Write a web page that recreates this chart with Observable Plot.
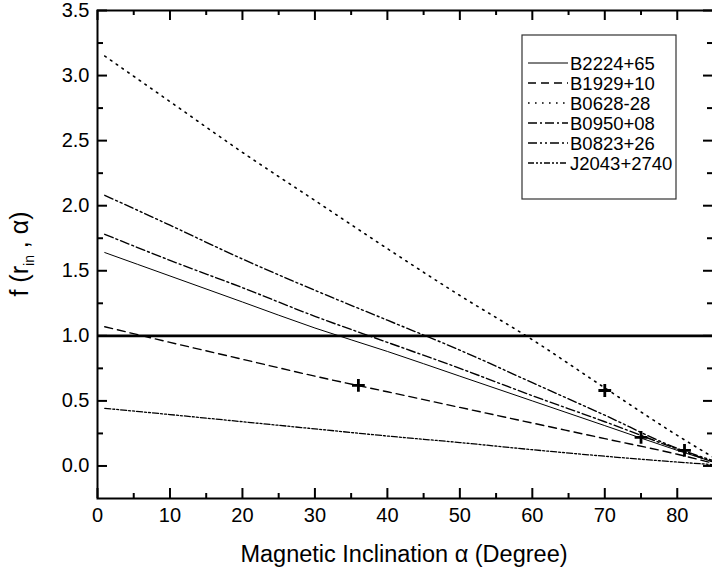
<!DOCTYPE html>
<html><head><meta charset="utf-8">
<script src="https://cdn.jsdelivr.net/npm/d3@7"></script>
<script src="https://cdn.jsdelivr.net/npm/@observablehq/plot@0.6"></script>
<style>
html,body{margin:0;padding:0;background:#fff;overflow:hidden;}
#chart{position:relative;width:712px;height:574px;overflow:hidden;}
#chart svg{overflow:hidden;}
</style></head><body><div id="chart"></div>
<script>
// ---- data ----
const alpha = [1, 10, 20, 30, 40, 50, 60, 70, 80, 85];
const B2224 = [1.64, 1.46, 1.26, 1.06, 0.88, 0.69, 0.50, 0.31, 0.12, 0.03];
const B1929 = [1.07, 0.95, 0.82, 0.69, 0.57, 0.45, 0.33, 0.21, 0.09, 0.02];
const B0628 = [3.15, 2.80, 2.41, 2.04, 1.67, 1.31, 0.97, 0.60, 0.235, 0.065];
const B0950 = [1.78, 1.58, 1.37, 1.15, 0.95, 0.75, 0.54, 0.34, 0.13, 0.03];
const B0823 = [2.08, 1.85, 1.59, 1.35, 1.12, 0.89, 0.64, 0.39, 0.135, 0.04];
const J2043 = [0.443, 0.395, 0.34, 0.285, 0.23, 0.18, 0.125, 0.075, 0.03, 0.01];
const seriesNames = ["B2224+65", "B1929+10", "B0628-28", "B0950+08", "B0823+26", "J2043+2740"];
const seriesValues = [B2224, B1929, B0628, B0950, B0823, J2043];
const plusAlpha = [36, 70, 75, 81];
const plusF = [0.62, 0.58, 0.22, 0.12];
const xMajor = [0, 10, 20, 30, 40, 50, 60, 70, 80];
const xMinor = [5, 15, 25, 35, 45, 55, 65, 75, 85];
const yMajor = [0, 0.5, 1.0, 1.5, 2.0, 2.5, 3.0, 3.5];
const yMinor = [0.25, 0.75, 1.25, 1.75, 2.25, 2.75, 3.25];
const refLine = [1.0];

// ---- layout / styles ----
const W = 712, H = 574, ML = 97, MR = -1, MT = 10, MB = 76;
const innerW = W - ML - MR, innerH = H - MT - MB;
const dashes = [null, "8,5", "1.6,5.4", "9,3,2,3", "9,3,2,3,2,3", "6,2,2,2,2,2"];
const widths = [1, 1.4, 1.6, 1.4, 1.4, 1.3];
const FONT = "'Liberation Sans', Arial, Helvetica, sans-serif";

const rows = seriesNames.flatMap((s, k) => alpha.map((a, i) => ({series: s, alpha: a, f: seriesValues[k][i]})));
const plusRows = plusAlpha.map((a, i) => ({alpha: a, f: plusF[i]}));

// inward ticks: rules spanning the frame, inset so only `len` px remain at the edge
const tickOpts = {stroke: "#000", strokeWidth: 2};
const xTicks = (vals, len) => [
  Plot.ruleX(vals, {...tickOpts, insetTop: innerH - len}),
  Plot.ruleX(vals, {...tickOpts, insetBottom: innerH - len})
];
const yTicks = (vals, len) => [
  Plot.ruleY(vals, {...tickOpts, insetRight: innerW - len}),
  Plot.ruleY(vals, {...tickOpts, insetLeft: innerW - len})
];

const chart = Plot.plot({
  width: W,
  height: H,
  marginLeft: ML,
  marginRight: MR,
  marginTop: MT,
  marginBottom: MB,
  style: {fontFamily: FONT, color: "#000", background: "#fff", overflow: "hidden"},
  x: {domain: [0, 85]},
  y: {domain: [-0.25, 3.5]},
  marks: [
    ...seriesNames.map((s, k) => Plot.line(rows.filter(d => d.series === s), {
      x: "alpha", y: "f", curve: "monotone-x", stroke: "#000",
      strokeWidth: widths[k], strokeDasharray: dashes[k] ?? undefined
    })),
    Plot.ruleY(refLine, {stroke: "#000", strokeWidth: 2.6}),
    Plot.dot(plusRows, {x: "alpha", y: "f", symbol: "plus", r: 4.2, stroke: "#000", strokeWidth: 2.8}),
    ...xTicks(xMajor, 10),
    ...xTicks(xMinor, 5),
    ...yTicks(yMajor, 10),
    ...yTicks(yMinor, 6),
    Plot.frame({stroke: "#000", strokeWidth: 2}),
    Plot.axisX(xMajor, {anchor: "bottom", tickSize: 0, tickPadding: 9, fontSize: 20, label: null, tickFormat: d => String(d)}),
    Plot.axisY(yMajor, {anchor: "left", tickSize: 0, tickPadding: 8, fontSize: 20, label: null, tickFormat: d3.format(".1f")})
  ]
});
document.getElementById("chart").appendChild(chart);

// ---- titles ----
const svg = d3.select(chart);
svg.append("text")
  .attr("x", 404).attr("y", 562)
  .attr("text-anchor", "middle")
  .attr("font-family", FONT).attr("font-size", 23.5).attr("fill", "#000")
  .text("Magnetic Inclination α (Degree)");

const yt = svg.append("text")
  .attr("transform", "translate(28,254) rotate(-90)")
  .attr("text-anchor", "middle")
  .attr("font-family", FONT).attr("font-size", 25).attr("fill", "#000");
yt.append("tspan").text("f (r");
yt.append("tspan").attr("font-size", 14).attr("dy", 6).text("in");
yt.append("tspan").attr("dy", -6).text(" , α)");

// ---- legend ----
const lg = svg.append("g").attr("font-family", FONT).attr("font-size", 18.5).attr("text-anchor", "start");
lg.append("rect").attr("x", 522).attr("y", 35).attr("width", 154).attr("height", 164)
  .attr("fill", "#fff").attr("stroke", "#333").attr("stroke-width", 1.2);
seriesNames.forEach((s, k) => {
  const yy = 63 + k * 20;
  lg.append("line").attr("x1", 528).attr("x2", 568).attr("y1", yy).attr("y2", yy)
    .attr("stroke", "#000").attr("stroke-width", widths[k])
    .attr("stroke-dasharray", dashes[k]);
  lg.append("text").attr("x", 570).attr("y", yy + 6.5).attr("fill", "#000").attr("text-anchor", "start").text(s);
});
</script>
</body></html>
